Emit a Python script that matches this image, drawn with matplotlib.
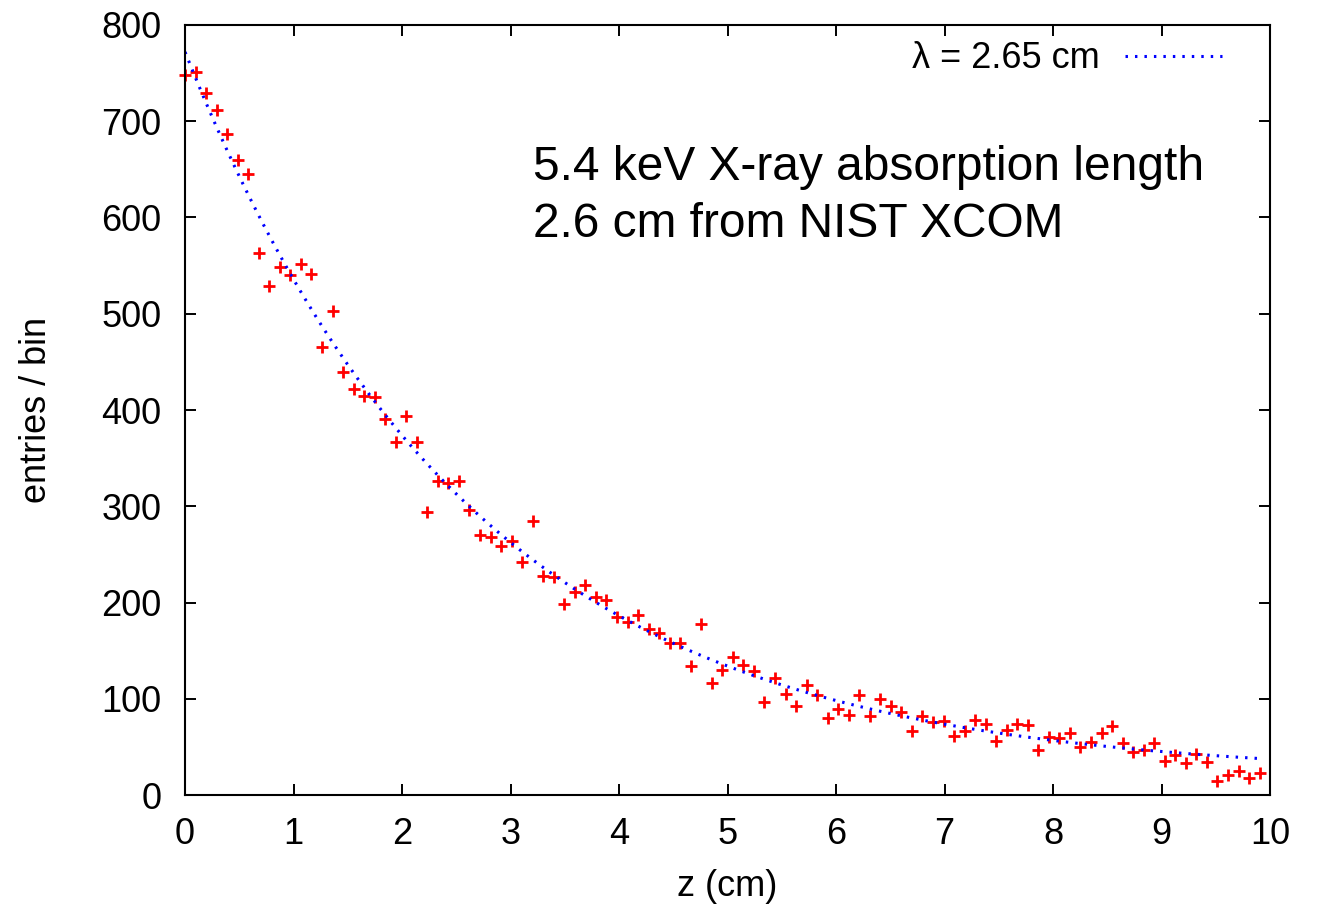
import numpy as np
from matplotlib import pyplot as plt

plt.rcParams['font.family'] = ['Liberation Sans', 'DejaVu Sans']

# ----- data: absorption depth histogram, 103 bins over 0-10 cm -----
n_bins = 103
z_edges = np.linspace(0, 10, n_bins + 1)
z = z_edges[:-1]

counts = [748, 751, 729, 712, 687, 660, 645, 563, 529, 549,
          540, 552, 541, 465, 503, 439, 422, 415, 413, 391,
          367, 394, 367, 294, 326, 324, 326, 296, 270, 268,
          259, 264, 242, 285, 228, 226, 198, 211, 218, 206,
          203, 185, 180, 187, 172, 168, 158, 158, 134, 178,
          116, 130, 143, 135, 129, 97, 122, 105, 92, 114,
          104, 80, 89, 83, 104, 82, 100, 92, 86, 67,
          82, 76, 77, 61, 67, 78, 74, 56, 68, 74,
          73, 47, 60, 59, 64, 50, 55, 64, 72, 54,
          45, 47, 54, 35, 42, 33, 43, 34, 15, 21,
          25, 18, 23]

# exponential fit result
LAMBDA = 2.65
FIT_NORM = 752
FIT_BKG = 20

z_fit = np.linspace(0, z[-1], 300)
y_fit = FIT_NORM * np.exp(-z_fit / LAMBDA) + FIT_BKG

fig = plt.figure(figsize=(13.2, 9.05), dpi=100)
ax = fig.add_axes([0.1402, 0.1215, 0.8220, 0.8509])

ax.plot(z, counts, '+', color='red', markersize=9, markeredgewidth=2.0,
        clip_on=False, label='_nolegend_')
ax.plot(z_fit, y_fit, color='blue', linewidth=2.2, linestyle=(0, (0.8, 2.3)),
        label='λ = 2.65 cm')

ax.set_xlim(0, 10)
ax.set_ylim(0, 800)
ax.set_xticks(range(0, 11))
ax.set_yticks(range(0, 801, 100))

ax.tick_params(direction='in', top=True, right=True, length=8, width=1.4,
               labelsize=26)
ax.tick_params(axis='x', pad=16)
ax.tick_params(axis='y', pad=17)
for s in ax.spines.values():
    s.set_linewidth(1.5)

ax.set_xlabel('z (cm)', fontsize=26, labelpad=12)
ax.set_ylabel('entries / bin', fontsize=26, labelpad=34)

ax.text(0.3207, 0.7987, '5.4 keV X-ray absorption length', transform=ax.transAxes,
        fontsize=34.5, va='baseline', ha='left')
ax.text(0.3207, 0.7247, '2.6 cm from NIST XCOM', transform=ax.transAxes,
        fontsize=34.5, va='baseline', ha='left')

ax.legend(loc='upper right', bbox_to_anchor=(0.956, 0.979), frameon=False,
          markerfirst=False, handlelength=2.7, handletextpad=0.7,
          borderpad=0, borderaxespad=0, fontsize=26)

plt.savefig('out.png', dpi=100)
